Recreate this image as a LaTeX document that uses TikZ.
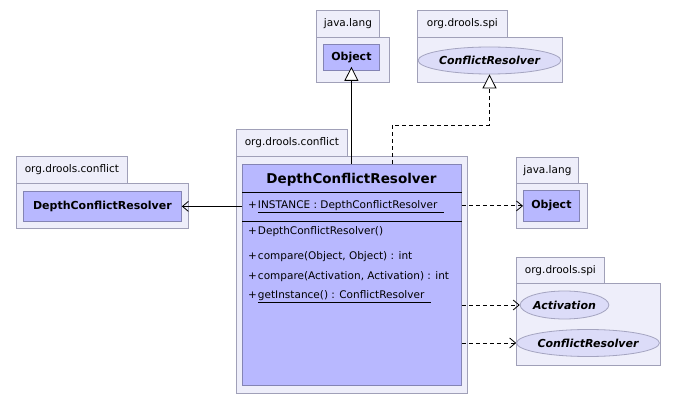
\documentclass[tikz,border=0pt]{standalone}
\usepackage{fontspec}
\setmainfont{DejaVu Sans}
\usetikzlibrary{arrows.meta,shapes.geometric}
\definecolor{pkgfill}{HTML}{EEEEFA}
\definecolor{pkgline}{HTML}{A0A0B8}
\definecolor{clsfill}{HTML}{B8B8FF}
\definecolor{clsline}{HTML}{8484B4}
\definecolor{ifill}{HTML}{DCDCF8}
\definecolor{iline}{HTML}{A4A4C0}
\tikzset{
  pkgbox/.style={draw=pkgline, fill=pkgfill, line width=0.8pt, anchor=north west, inner sep=0pt},
  pkgtab/.style={pkgbox, font=\fontsize{10.5}{12}\selectfont},
  clsbox/.style={draw=clsline, fill=clsfill, line width=0.8pt, anchor=north west, inner sep=0pt, font=\fontsize{11}{13}\selectfont\bfseries},
  ibox/.style={ellipse, draw=iline, fill=ifill, line width=0.8pt, inner sep=0pt, font=\fontsize{11}{13}\selectfont\bfseries\itshape},
  member/.style={anchor=west, inner sep=0pt, font=\fontsize{10.5}{12}\selectfont},
  gen/.style={line width=0.8pt, -{Triangle[open, length=14pt, width=14pt, fill=white]}},
  real/.style={gen, dash pattern=on 4pt off 3pt},
  dep/.style={line width=0.8pt, dash pattern=on 4pt off 3pt, -{Straight Barb[length=6pt, width=10pt]}},
  assoc/.style={line width=0.8pt, -{Straight Barb[length=6pt, width=10pt]}},
}
\begin{document}
\begin{tikzpicture}[x=1pt,y=-1pt]
\useasboundingbox (0,0) rectangle (678,403);
% top java.lang
\node[pkgtab, minimum width=63pt, minimum height=27pt] (jlTab) at (316,10) {java.lang};
\node[pkgbox, minimum width=73pt, minimum height=45pt] (jlBody) at (316,37) {};
\node[clsbox, minimum width=56pt, minimum height=26pt] (objTop) at (323,44) {Object};
% top org.drools.spi
\node[pkgtab, minimum width=90pt, minimum height=27pt] (spiTab) at (417,10) {org.drools.spi};
\node[pkgbox, minimum width=145pt, minimum height=45pt] (spiBody) at (417,37) {};
\node[ibox, minimum width=131pt, minimum height=27pt] (crTop) at (489.5,60.5) {ConflictResolver};
% left org.drools.conflict
\node[pkgtab, minimum width=111pt, minimum height=27pt] (lTab) at (16,156) {org.drools.conflict};
\node[pkgbox, minimum width=172pt, minimum height=45pt] (lBody) at (16,183) {};
\node[clsbox, minimum width=158pt, minimum height=30pt] (lCls) at (23,191) {DepthConflictResolver};
% right java.lang
\node[pkgtab, minimum width=62pt, minimum height=26pt] (rjlTab) at (516,157) {java.lang};
\node[pkgbox, minimum width=71pt, minimum height=45pt] (rjlBody) at (516,183) {};
\node[clsbox, minimum width=56pt, minimum height=31pt] (rObj) at (523,190) {Object};
% right org.drools.spi
\node[pkgtab, minimum width=88pt, minimum height=26pt] (rspiTab) at (516,257) {org.drools.spi};
\node[pkgbox, minimum width=144pt, minimum height=82pt] (rspiBody) at (516,283) {};
\node[ibox, minimum width=83pt, minimum height=28pt] (act) at (564.5,305) {Activation};
\node[ibox, minimum width=130pt, minimum height=27pt] (cr2) at (588,343) {ConflictResolver};
% main package
\node[pkgtab, minimum width=111pt, minimum height=27pt] (mTab) at (236,129) {org.drools.conflict};
\node[pkgbox, minimum width=231pt, minimum height=237pt] (mBody) at (236,156) {};
\node[clsbox, minimum width=219pt, minimum height=221pt] (mCls) at (242,164) {};
\node[font=\fontsize{13.5}{15}\selectfont\bfseries, inner sep=0pt] (mTitle) at (351.5,180) {DepthConflictResolver};
\draw[black, line width=0.8pt] (mCls.west |- 0,192) -- (mCls.east |- 0,192);
\draw[black, line width=0.8pt] (mCls.west |- 0,221) -- (mCls.east |- 0,221);
\node[member] (attr) at (248,207) {+\hspace{1pt}\underline{INSTANCE : DepthConflictResolver\ \ }};
\node[member] (m1) at (248,232) {+\hspace{1pt}DepthConflictResolver()};
\node[member] (m2) at (248,257) {+\hspace{1pt}compare(Object, Object) : int};
\node[member] (m3) at (248,277) {+\hspace{1pt}compare(Activation, Activation) : int};
\node[member] (m4) at (248,297) {+\hspace{1pt}\underline{getInstance() : ConflictResolver\ \ }};
% connectors
\draw[gen] (objTop.south |- mCls.north) -- ([yshift=4pt]objTop.south);
\draw[real] ([xshift=40.5pt]mCls.north) -- ++(0,-39) -| (crTop.south);
\draw[assoc] (mCls.west |- lCls.east) -- (lCls.east);
\draw[dep] (mCls.east |- rObj.west) -- (rObj.west);
\draw[dep] (mCls.east |- act.west) -- (act.west);
\draw[dep] (mCls.east |- cr2.west) -- (cr2.west);
\end{tikzpicture}
\end{document}
